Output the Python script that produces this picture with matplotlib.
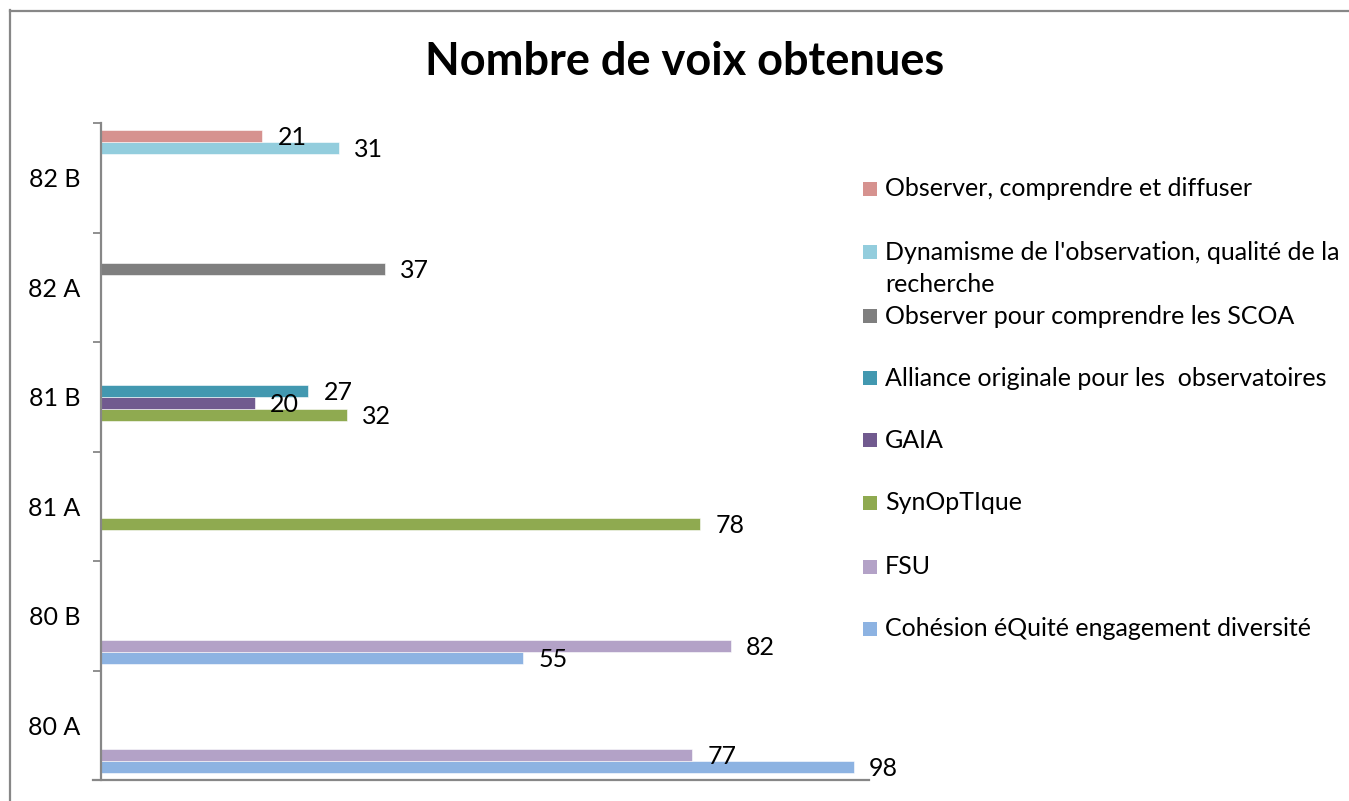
import numpy as np
import matplotlib
matplotlib.use("Agg")
import matplotlib.pyplot as plt
from matplotlib.patches import Rectangle
from matplotlib.lines import Line2D

plt.rcParams['font.family'] = ['Lato', 'DejaVu Sans']

# ---- data ----
categories = ["80 A", "80 B", "81 A", "81 B", "82 A", "82 B"]
series_names = [
    "Cohésion éQuité engagement diversité",
    "FSU",
    "SynOpTIque",
    "GAIA",
    "Alliance originale pour les  observatoires",
    "Observer pour comprendre les SCOA",
    "Dynamisme de l'observation, qualité de la\nrecherche",
    "Observer, comprendre et diffuser",
]
nan = np.nan
cohesion = [98, 55, nan, nan, nan, nan]
fsu = [77, 82, nan, nan, nan, nan]
synoptique = [nan, nan, 78, 32, nan, nan]
gaia = [nan, nan, nan, 20, nan, nan]
alliance = [nan, nan, nan, 27, nan, nan]
observer_scoa = [nan, nan, nan, nan, 37, nan]
dynamisme = [nan, nan, nan, nan, nan, 31]
observer_diffuser = [nan, nan, nan, nan, nan, 21]
series_values = [cohesion, fsu, synoptique, gaia, alliance,
                 observer_scoa, dynamisme, observer_diffuser]
colors = ["#8DB3E2", "#B3A2C7", "#8FAA50", "#715A8F",
          "#4298B0", "#7F7F7F", "#93CDDD", "#D6928F"]

W, H = 1349, 801
fig = plt.figure(figsize=(W / 100, H / 100), dpi=100)

def fx(px):
    return px / W

def fy(py):
    return 1 - py / H

# outer chart frame (partially visible)
fig.add_artist(Line2D([fx(10), fx(10)], [0, fy(10)], color="#878787", lw=1.6))
fig.add_artist(Line2D([fx(10), 1], [fy(11), fy(11)], color="#878787", lw=1.6))

ax = fig.add_axes([fx(101), fy(780), (869 - 101) / W, (780 - 123) / H])

n = len(series_values)
bar_h = 0.1096
y = np.arange(len(categories))
for i, (vals, col) in enumerate(zip(series_values, colors)):
    v = np.array(vals, dtype=float)
    pos = y + (i - (n - 1) / 2) * bar_h
    ax.barh(pos, v, height=bar_h, color=col, edgecolor="white", linewidth=0.4)
    for p, val in zip(pos, v):
        if not np.isnan(val):
            ax.annotate(f"{int(val)}", xy=(val, p), xytext=(11, -1),
                        textcoords="offset points", ha="left", va="center",
                        fontsize=18, color="black")

ax.set_xlim(0, 100)
ax.set_ylim(-0.5, len(categories) - 0.5)
ax.set_yticks(y)
ax.set_yticklabels(categories, fontsize=18)
ax.set_yticks(np.arange(-0.5, len(categories), 1.0), minor=True)
ax.tick_params(axis="y", which="major", length=0, pad=15)
ax.tick_params(axis="y", which="minor", length=6, width=1.3, color="#878787",
               direction="out")
ax.set_xticks([])
for s in ["top", "right"]:
    ax.spines[s].set_visible(False)
for s in ["left", "bottom"]:
    ax.spines[s].set_color("#878787")
    ax.spines[s].set_linewidth(1.6)
ax.spines["bottom"].set_bounds(-1.0, 100)
ax.spines["bottom"].set_position(("data", -0.5))

# title
fig.text(fx(685), fy(62), "Nombre de voix obtenues", ha="center", va="center",
         fontsize=32.5, fontweight="bold")

# legend (manual, Excel-style, reverse order)
leg_y = [629, 567, 503, 440, 378, 316, 252, 189]
for name, col, ly in zip(series_names, colors, leg_y):
    fig.add_artist(Rectangle((fx(863), fy(ly + 7)), 14 / W, 14 / H,
                             transform=fig.transFigure, facecolor=col,
                             edgecolor="none"))
    for k, line in enumerate(name.split("\n")):
        fig.text(fx(885), fy(ly + k * 32), line, ha="left", va="center",
                 fontsize=18)

fig.savefig("out.png", dpi=100)
